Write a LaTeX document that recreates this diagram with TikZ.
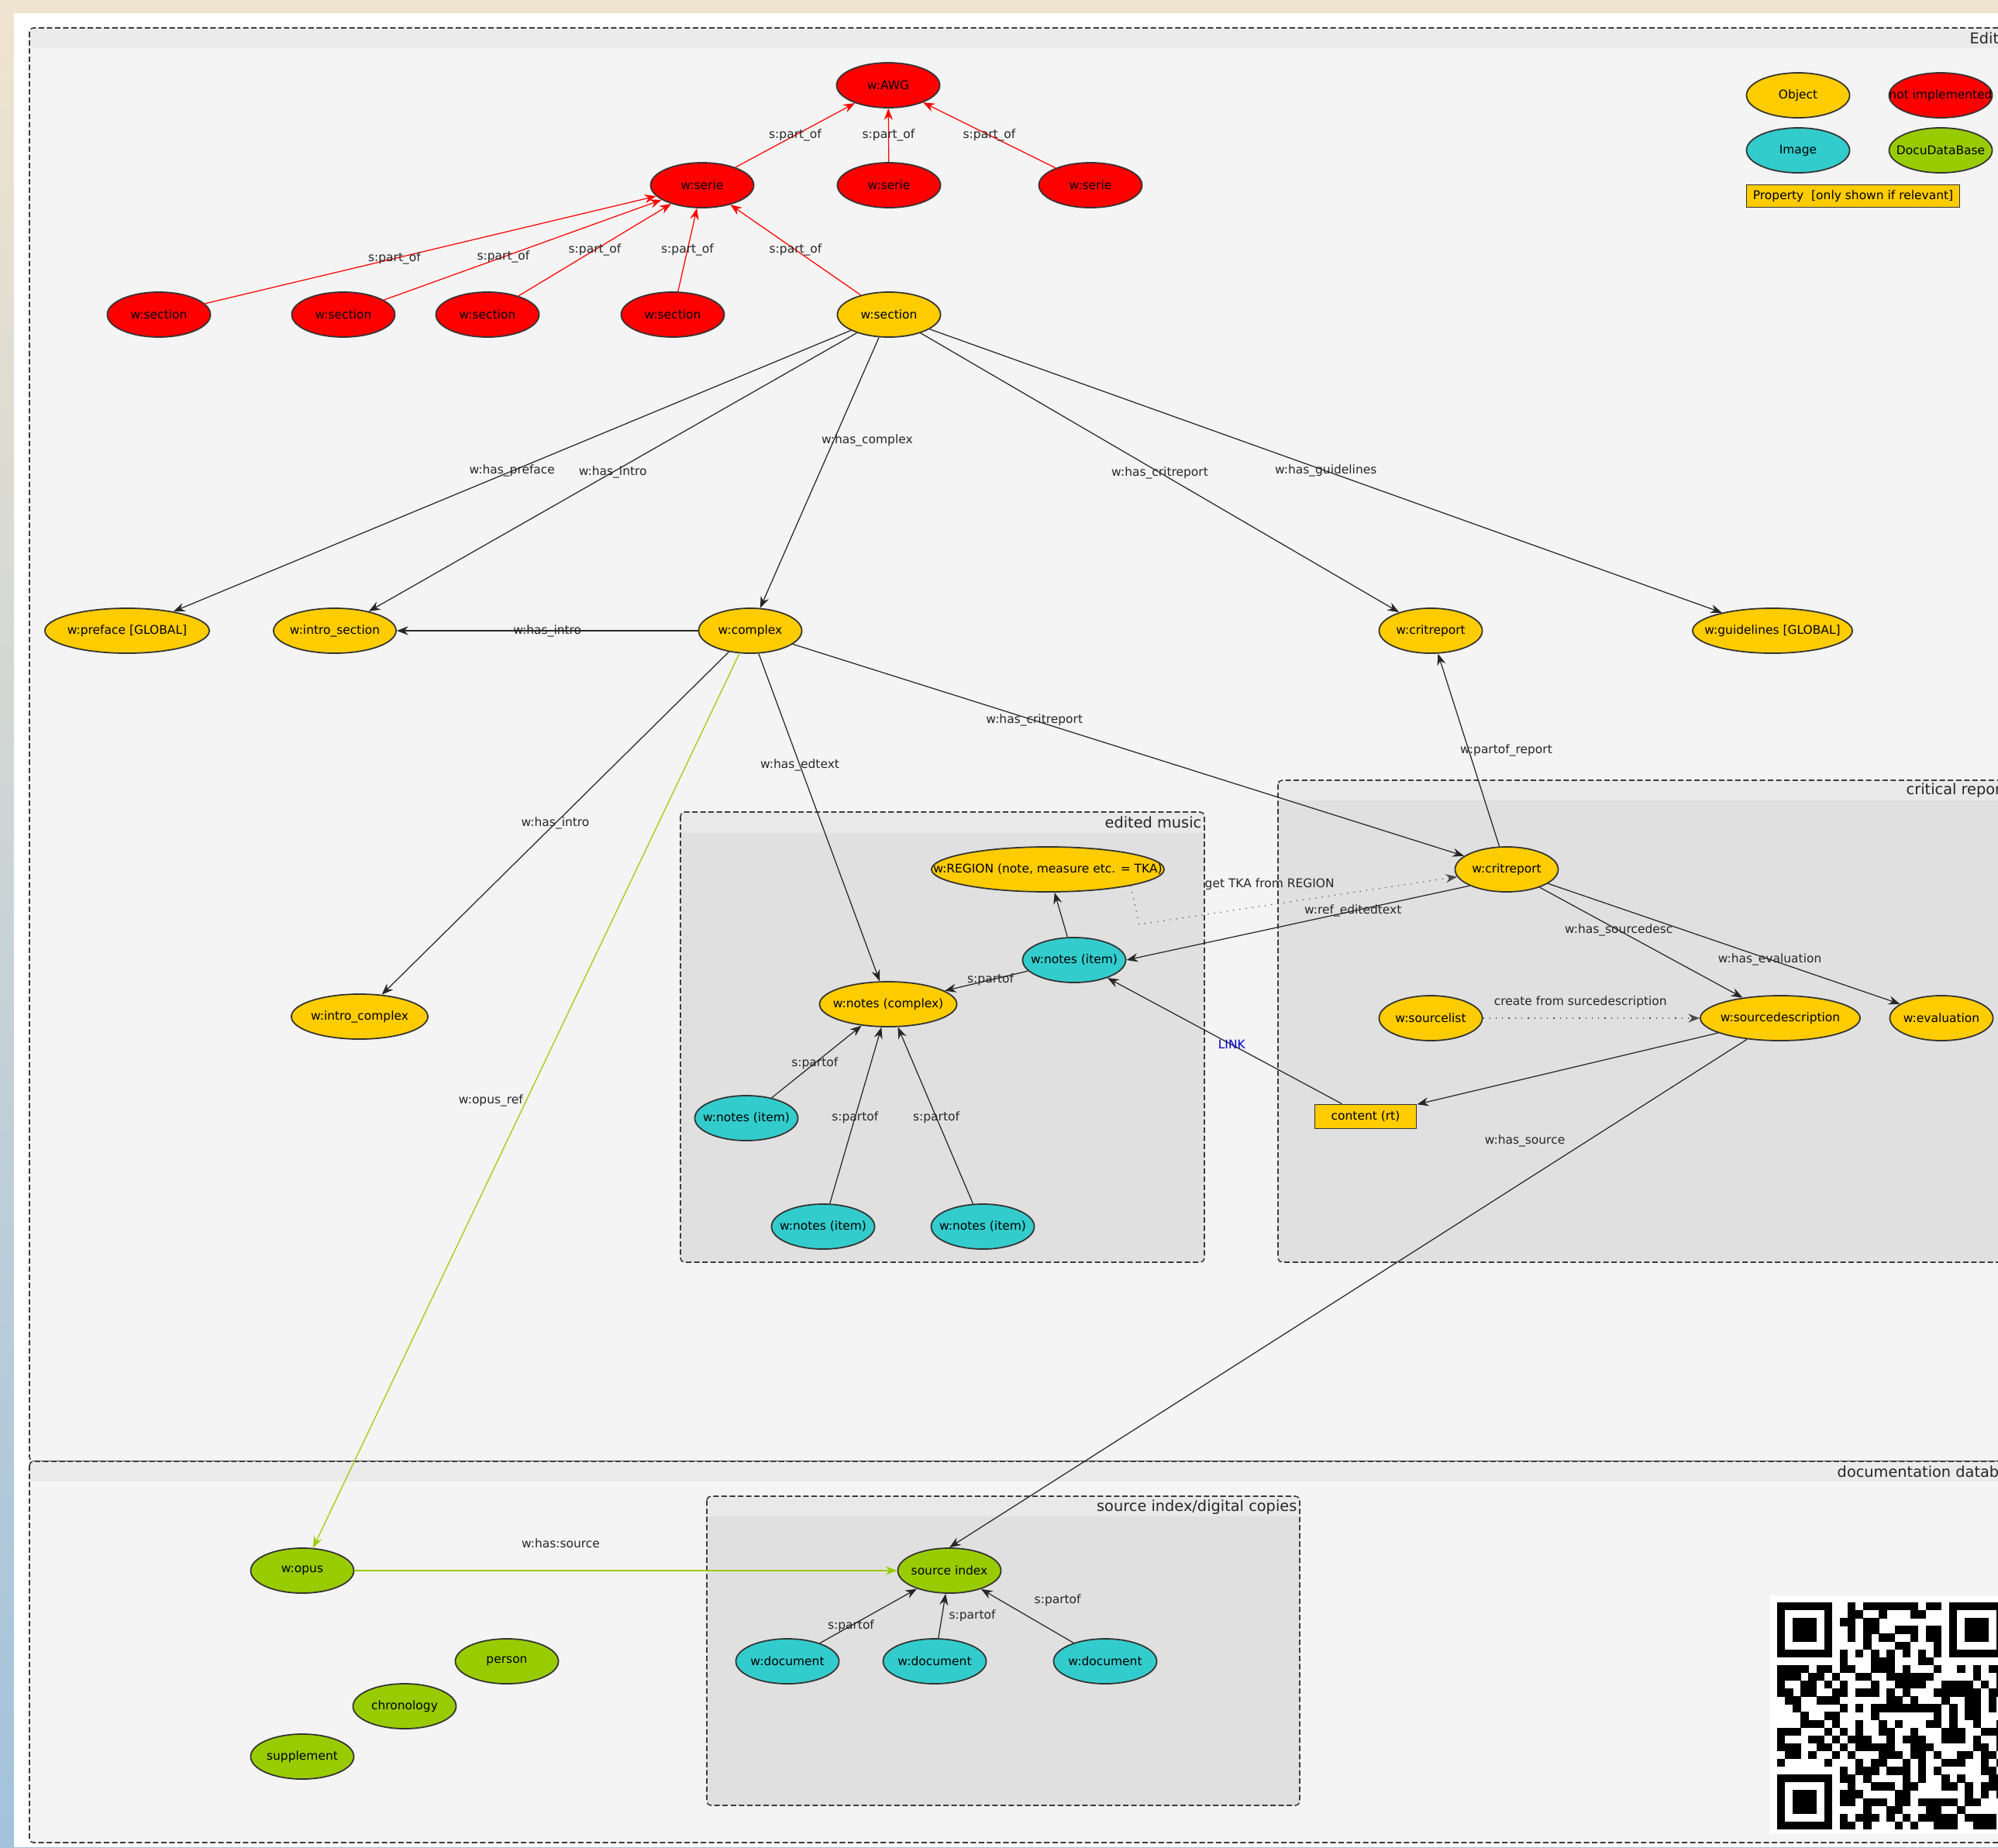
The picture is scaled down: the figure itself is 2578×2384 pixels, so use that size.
\documentclass[tikz,border=0pt]{standalone}
\usepackage{fontspec}
\setmainfont{DejaVu Sans}
\usepackage{xcolor}
\usepackage{tikz}
\usetikzlibrary{shapes.geometric, arrows.meta, positioning}
\definecolor{objcolor}{RGB}{255,204,0}
\definecolor{noimplcolor}{RGB}{255,0,0}
\definecolor{imgcolor}{RGB}{51,204,204}
\definecolor{docucolor}{RGB}{153,204,0}
\definecolor{bgmain}{RGB}{244,244,244}
\definecolor{bghead}{RGB}{235,235,235}
\definecolor{grpbody}{RGB}{224,224,224}
\definecolor{grphead}{RGB}{233,233,233}
\definecolor{pagebeige}{RGB}{239,228,207}
\definecolor{pageblue}{RGB}{163,194,220}
\definecolor{linkblue}{RGB}{0,0,204}
\definecolor{framegray}{RGB}{60,60,60}
\newcommand{\diagfont}{\fontsize{4.4}{5.2}\selectfont}
\newcommand{\grpfont}{\fontsize{5.5}{6.6}\selectfont}

\begin{document}
\begin{tikzpicture}[
    x=0.01cm, y=-0.01cm,
    oval/.style={ellipse, draw=black!80, line width=0.5pt, minimum width=1.33cm, minimum height=0.58cm, inner sep=0pt, font=\diagfont,
        execute at begin node={\hbox to 0pt\bgroup\hss}, execute at end node={\hss\egroup}},
    obj/.style={oval, fill=objcolor},
    noimpl/.style={oval, fill=noimplcolor},
    img/.style={oval, fill=imgcolor},
    docu/.style={oval, fill=docucolor},
    prop/.style={rectangle, draw=black!80, line width=0.5pt, fill=objcolor, inner sep=0pt, font=\diagfont},
    lbl/.style={font=\diagfont, inner sep=1pt, text=black!85},
    rel/.style={-{Stealth[length=4.2pt, width=3.2pt]}, line width=0.35pt, draw=black!85},
    redrel/.style={rel, draw=noimplcolor},
    greenrel/.style={rel, draw=docucolor},
    dotrel/.style={rel, dotted, draw=black!70},
    frame/.style={draw=framegray, line width=0.45pt, dash pattern=on 2pt off 1pt, rounded corners=1.5pt},
    grptitle/.style={font=\grpfont, inner sep=0pt, text=black!85}
]
    \useasboundingbox (0,0) rectangle (2578,2384);
    \clip (0,0) rectangle (2578,2384);

    % page behind the diagram
    \shade[top color=pagebeige, bottom color=pageblue] (0,0) rectangle (2578,2384);
    \fill[white] (18,17) rectangle (2578,2384);

    % groups
    \fill[bgmain, rounded corners=1.5pt] (38,36) rectangle (2640,1886);
    \fill[bghead, rounded corners=1.5pt] (38,36) rectangle (2640,62);
    \draw[frame] (38,36) rectangle (2640,1886);
    \node[grptitle, anchor=west] (ttledit) at (2541,49) {Edit};

    \fill[bgmain, rounded corners=1.5pt] (38,1886) rectangle (2640,2378);
    \fill[bghead] (38,1886) rectangle (2640,1912);
    \draw[frame] (38,1886) rectangle (2640,2378);
    \node[grptitle, anchor=west] (ttldoc) at (2370,1899) {documentation datab};

    \fill[grpbody, rounded corners=1.5pt] (878,1048) rectangle (1554,1629);
    \fill[grphead] (878,1048) rectangle (1554,1075);
    \draw[frame] (878,1048) rectangle (1554,1629);
    \node[grptitle, anchor=east] (ttlmusic) at (1551,1061) {edited music};

    \fill[grpbody, rounded corners=1.5pt] (1649,1007) rectangle (2640,1629);
    \fill[grphead] (1649,1007) rectangle (2640,1033);
    \draw[frame] (1649,1007) rectangle (2640,1629);
    \node[grptitle, anchor=west] (ttlcrit) at (2459,1020) {critical repor};

    \fill[grpbody, rounded corners=1.5pt] (912,1931) rectangle (1677,2330);
    \fill[grphead] (912,1931) rectangle (1677,1957);
    \draw[frame] (912,1931) rectangle (1677,2330);
    \node[grptitle, anchor=east] (ttlsrc) at (1674,1945) {source index/digital copies};

    % QR code
    \fill[white] (2284,2059) rectangle (2640,2366);
    \foreach \fx/\fy in {0/0, 22/0, 0/22} {
        \fill[black] ({2293+\fx*10.1}, {2068+\fy*10.1}) rectangle +(70.7,70.7);
        \fill[white] ({2293+(\fx+1)*10.1}, {2068+(\fy+1)*10.1}) rectangle +(50.5,50.5);
        \fill[black] ({2293+(\fx+2)*10.1}, {2068+(\fy+2)*10.1}) rectangle +(30.3,30.3);
    }
    \pgfmathsetseed{1207}
    \foreach \r in {0,...,28} {
        \foreach \c in {0,...,28} {
            \pgfmathtruncatemacro{\qrfree}{((\r<8 && \c<8) || (\r<8 && \c>20) || (\r>20 && \c<8)) ? 0 : 1}
            \pgfmathtruncatemacro{\qrbit}{(\r==6) ? (mod(\c,2)==0) : ((\c==6) ? (mod(\r,2)==0) : (rnd<0.5))}
            \ifnum\qrfree\qrbit=11 \fill[black] ({2293+\c*10.1}, {2068+\r*10.1}) rectangle +(10.4,10.4); \fi
        }
    }

    % legend
    \node[obj] (lgobj) at (2320,123) {Object};
    \node[noimpl] (lgnoimpl) at (2504,123) {not implemented};
    \node[img] (lgimg) at (2320,194) {Image};
    \node[docu] (lgdocu) at (2504,194) {DocuDataBase};
    \node[prop, minimum width=2.75cm, minimum height=0.29cm] (lgprop) at (2391,253) {Property\ \ [only shown if relevant]};

    % edition tree
    \node[noimpl] (awg) at (1146,110) {w:AWG};
    \node[noimpl] (serieA) at (906,239) {w:serie};
    \node[noimpl] (serieB) at (1147,239) {w:serie};
    \node[noimpl] (serieC) at (1407,239) {w:serie};
    \node[noimpl] (secA) at (205,406) {w:section};
    \node[noimpl] (secB) at (443,406) {w:section};
    \node[noimpl] (secC) at (629,406) {w:section};
    \node[noimpl] (secD) at (868,406) {w:section};
    \node[obj] (secE) at (1147,406) {w:section};

    \node[obj, minimum width=2.12cm] (preface) at (164,814) {w:preface [GLOBAL]};
    \node[obj, minimum width=1.58cm] (introsec) at (432,814) {w:intro\_section};
    \node[obj] (complex) at (968,814) {w:complex};
    \node[obj] (critrepmain) at (1846,814) {w:critreport};
    \node[obj, minimum width=2.06cm] (guidelines) at (2287,814) {w:guidelines [GLOBAL]};
    \node[obj, minimum width=1.76cm] (introcx) at (464,1312) {w:intro\_complex};

    % edited music
    \node[obj, minimum width=3.0cm] (region) at (1352,1122) {w:REGION (note, measure etc. = TKA)};
    \node[img] (noteitem) at (1386,1239) {w:notes (item)};
    \node[obj, minimum width=1.77cm] (notecx) at (1146,1296) {w:notes (complex)};
    \node[img] (noteL) at (963,1443) {w:notes (item)};
    \node[img] (noteB) at (1062,1583) {w:notes (item)};
    \node[img] (noteC) at (1268,1583) {w:notes (item)};

    % critical report
    \node[obj] (critrep) at (1944,1122) {w:critreport};
    \node[obj] (srclist) at (1846,1314) {w:sourcelist};
    \node[obj, minimum width=2.06cm] (srcdesc) at (2297,1314) {w:sourcedescription};
    \node[obj] (evaluation) at (2505,1314) {w:evaluation};
    \node[prop, minimum width=1.31cm, minimum height=0.31cm] (content) at (1762,1441) {content (rt)};
    \coordinate (tkabend) at (1470,1193);

    % documentation database
    \node[docu] (opus) at (390,2027) {w:opus};
    \node[docu] (srcidx) at (1225,2027) {source index};
    \node[img] (docA) at (1016,2144) {w:document};
    \node[img] (docB) at (1206,2144) {w:document};
    \node[img] (docC) at (1426,2144) {w:document};
    \node[docu] (person) at (654,2144) {person};
    \node[docu] (chrono) at (522,2202) {chronology};
    \node[docu] (suppl) at (390,2267) {supplement};

    % part_of tree
    \draw[redrel] (serieA) -- node[lbl] {s:part\_of} (awg);
    \draw[redrel] (serieB) -- node[lbl] {s:part\_of} (awg);
    \draw[redrel] (serieC) -- node[lbl] {s:part\_of} (awg);
    \draw[redrel] (secA) -- node[lbl, pos=.42] {s:part\_of} (serieA);
    \draw[redrel] (secB) -- node[lbl, pos=.43] {s:part\_of} (serieA);
    \draw[redrel] (secC) -- node[lbl] {s:part\_of} (serieA);
    \draw[redrel] (secD) -- node[lbl] {s:part\_of} (serieA);
    \draw[redrel] (secE) -- node[lbl] {s:part\_of} (serieA);

    % section
    \draw[rel] (secE) -- node[lbl] {w:has\_preface} (preface);
    \draw[rel] (secE) -- node[lbl] {w:has\_intro} (introsec);
    \draw[rel] (secE) -- node[lbl, pos=.38, anchor=west, xshift=-0.2cm] {w:has\_complex} (complex);
    \draw[rel] (secE) -- node[lbl] {w:has\_critreport} (critrepmain);
    \draw[rel] (secE) -- node[lbl] {w:has\_guidelines} (guidelines);

    % complex
    \draw[rel] (complex) -- node[lbl] {w:has\_intro} (introsec);
    \draw[rel] (complex) -- node[lbl] {w:has\_intro} (introcx);
    \draw[rel] (complex) -- node[lbl, pos=.34] {w:has\_edtext} (notecx);
    \draw[rel] (complex) -- node[lbl, pos=.36] {w:has\_critreport} (critrep);
    \draw[greenrel] (complex) -- node[lbl, anchor=east] {w:opus\_ref} (opus);

    % critical report
    \draw[rel] (critrep) -- node[lbl, anchor=west, xshift=-0.15cm] {w:partof\_report} (critrepmain);
    \draw[rel] (critrep.south west) -- node[lbl, pos=.34] {w:ref\_editedtext} (noteitem.east);
    \draw[dotrel] (region.south east) -- (tkabend) -- node[lbl, pos=.41, anchor=south, yshift=0.15cm] {get TKA from REGION} (critrep);
    \draw[rel] (critrep) -- node[lbl, pos=.39] {w:has\_sourcedesc} (srcdesc);
    \draw[rel] (critrep) -- node[lbl, pos=.63] {w:has\_evaluation} (evaluation);
    \draw[dotrel] (srclist) -- node[lbl, pos=.45, anchor=south, yshift=0.09cm] {create from surcedescription} (srcdesc);
    \draw[rel] (srcdesc) -- (content);
    \draw[rel] (content) -- node[lbl, pos=.47, text=linkblue] {LINK} (noteitem);
    \draw[rel] (srcdesc) -- node[lbl, pos=.2, anchor=east, xshift=-0.25cm] {w:has\_source} (srcidx.north);

    % edited music
    \draw[rel] (noteitem) -- (region);
    \draw[rel] (noteitem) -- node[lbl, pos=.45] {s:partof} (notecx);
    \draw[rel] (noteL) -- node[lbl, pos=.48] {s:partof} (notecx);
    \draw[rel] (noteB) -- node[lbl, pos=.49] {s:partof} (notecx);
    \draw[rel] (noteC) -- node[lbl, pos=.49] {s:partof} (notecx);

    % documentation database
    \draw[greenrel] (opus) -- node[lbl, pos=.38, anchor=south, yshift=0.25cm] {w:has:source} (srcidx);
    \draw[rel] (docA) -- node[lbl, pos=.32] {s:partof} (srcidx);
    \draw[rel] (docB) -- node[lbl, anchor=west, xshift=0.05cm] {s:partof} (srcidx);
    \draw[rel] (docC) -- node[lbl, pos=.6, anchor=west, xshift=0.17cm, yshift=0.13cm] {s:partof} (srcidx);
\end{tikzpicture}
\end{document}
